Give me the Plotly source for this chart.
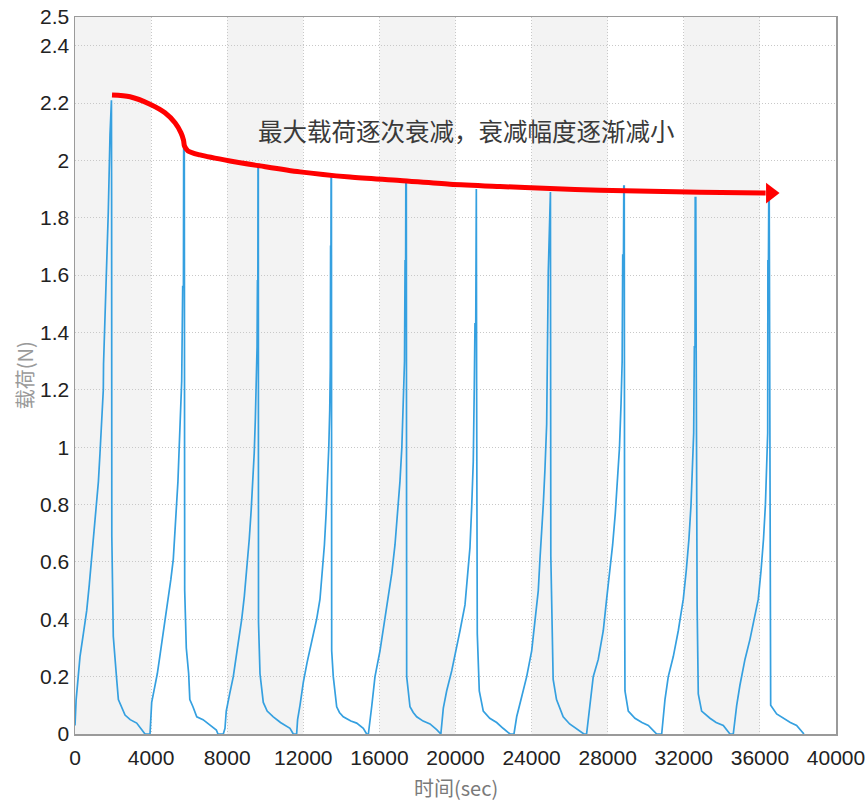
import plotly.graph_objects as go

# ---------------- data ----------------
# load (N) vs time (sec), one list pair per loading cycle
t_c1 = [0, 60, 170, 263, 440, 615, 750, 878, 1010, 1140, 1230, 1314, 1400, 1488, 1500, 1577, 1666, 1750, 1840, 1900, 1915, 1925, 1935, 2013, 2100, 2192, 2280, 2455, 2630, 2900, 3243, 3450, 3590, 3680, 3905]
f_c1 = [0.03, 0.12, 0.20, 0.27, 0.35, 0.43, 0.52, 0.61, 0.70, 0.79, 0.88, 0.98, 1.09, 1.20, 1.29, 1.45, 1.62, 1.82, 2.09, 2.21, 2.21, 1.85, 0.69, 0.34, 0.25, 0.19, 0.12, 0.095, 0.066, 0.05, 0.038, 0.02, 0.01, 0.0, 0.0]

t_c2 = [3942, 4031, 4180, 4326, 4480, 4641, 4780, 4904, 5040, 5167, 5260, 5345, 5410, 5466, 5540, 5608, 5661, 5700, 5712, 5745, 5766, 5850, 5974, 6035, 6200, 6400, 6730, 7100, 7430, 7515, 7795]
f_c2 = [0.0, 0.11, 0.16, 0.21, 0.28, 0.35, 0.41, 0.47, 0.54, 0.61, 0.70, 0.79, 0.88, 0.98, 1.10, 1.23, 1.56, 1.56, 2.05, 2.05, 0.50, 0.30, 0.21, 0.12, 0.095, 0.06, 0.05, 0.03, 0.014, 0.0, 0.0]

t_c3 = [7795, 7884, 7950, 8130, 8320, 8540, 8762, 8900, 9040, 9160, 9260, 9350, 9420, 9480, 9530, 9570, 9590, 9612, 9620, 9635, 9645, 9724, 9897, 10100, 10423, 10800, 11300, 11474, 11650]
f_c3 = [0.0, 0.02, 0.08, 0.14, 0.20, 0.30, 0.40, 0.48, 0.58, 0.68, 0.78, 0.88, 0.98, 1.10, 1.22, 1.35, 1.58, 1.58, 1.98, 1.98, 0.39, 0.21, 0.11, 0.08, 0.06, 0.04, 0.02, 0.0, 0.0]

t_c4 = [11650, 11700, 11826, 12000, 12200, 12450, 12700, 12877, 13000, 13110, 13200, 13280, 13340, 13390, 13420, 13435, 13455, 13462, 13478, 13492, 13576, 13755, 13900, 14102, 14500, 14806, 15153, 15331, 15420]
f_c4 = [0.0, 0.05, 0.10, 0.18, 0.25, 0.32, 0.40, 0.47, 0.56, 0.66, 0.77, 0.88, 1.00, 1.13, 1.28, 1.70, 1.70, 1.95, 1.95, 0.29, 0.20, 0.095, 0.075, 0.06, 0.045, 0.038, 0.02, 0.0, 0.0]

t_c5 = [15420, 15594, 15768, 16031, 16294, 16467, 16650, 16820, 16960, 17080, 17180, 17260, 17320, 17350, 17380, 17390, 17415, 17434, 17608, 17780, 17960, 18300, 18659, 19010, 19185, 19230]
f_c5 = [0.0, 0.095, 0.20, 0.29, 0.40, 0.47, 0.56, 0.66, 0.77, 0.88, 1.00, 1.15, 1.30, 1.65, 1.65, 1.93, 1.93, 0.20, 0.095, 0.075, 0.06, 0.045, 0.035, 0.015, 0.0, 0.0]

t_c6 = [19230, 19360, 19535, 19800, 20000, 20236, 20499, 20670, 20760, 20850, 20934, 20990, 21024, 21065, 21077, 21095, 21110, 21145, 21250, 21460, 21800, 22165, 22500, 22690, 22864, 23074]
f_c6 = [0.0, 0.09, 0.15, 0.22, 0.29, 0.36, 0.45, 0.57, 0.65, 0.79, 0.95, 1.22, 1.43, 1.43, 1.90, 1.90, 1.22, 0.35, 0.15, 0.08, 0.055, 0.04, 0.02, 0.008, 0.0, 0.0]

t_c7 = [23074, 23216, 23479, 23742, 24004, 24178, 24351, 24440, 24530, 24614, 24700, 24760, 24792, 24876, 24966, 24990, 25010, 25133, 25310, 25660, 26000, 26450, 26750, 26890]
f_c7 = [0.0, 0.06, 0.13, 0.20, 0.29, 0.40, 0.50, 0.61, 0.70, 0.80, 0.92, 1.00, 1.08, 1.61, 1.89, 1.89, 0.62, 0.19, 0.12, 0.06, 0.035, 0.014, 0.0, 0.0]

t_c8 = [26890, 27068, 27240, 27504, 27767, 27943, 28100, 28260, 28400, 28520, 28620, 28700, 28760, 28790, 28830, 28845, 28870, 28890, 28908, 29083, 29434, 29800, 30135, 30400, 30574, 30838]
f_c8 = [0.0, 0.095, 0.20, 0.26, 0.36, 0.47, 0.56, 0.66, 0.77, 0.88, 1.00, 1.15, 1.30, 1.67, 1.67, 1.91, 1.91, 0.50, 0.15, 0.08, 0.055, 0.04, 0.03, 0.012, 0.0, 0.0]

t_c9 = [30838, 31010, 31184, 31447, 31710, 31973, 32130, 32270, 32380, 32460, 32520, 32555, 32590, 32600, 32630, 32650, 32700, 32761, 32937, 33376, 33700, 34075, 34300, 34427, 34600]
f_c9 = [0.0, 0.12, 0.20, 0.27, 0.36, 0.47, 0.57, 0.68, 0.80, 0.92, 1.05, 1.35, 1.35, 1.87, 1.87, 1.35, 0.45, 0.14, 0.08, 0.055, 0.04, 0.03, 0.012, 0.0, 0.0]

t_c10 = [34600, 34780, 34950, 35215, 35478, 35740, 35915, 36060, 36190, 36290, 36360, 36410, 36420, 36450, 36465, 36490, 36500, 36540, 36566, 36880, 37228, 37600, 37930, 38150, 38316]
f_c10 = [0.0, 0.10, 0.17, 0.26, 0.33, 0.42, 0.47, 0.57, 0.68, 0.80, 0.92, 1.05, 1.65, 1.65, 1.86, 1.86, 1.65, 0.40, 0.10, 0.07, 0.055, 0.04, 0.03, 0.012, 0.0]

# red trend arrow drawn over the peaks (annotation path)
arrow_t = [1945, 2891, 3942, 4730, 5256, 5571, 5703, 5755, 5939, 6570, 8147, 9724, 11826, 14454, 17082, 19710, 22338, 24966, 27594, 30222, 32850, 36300]
arrow_v = [2.228, 2.222, 2.196, 2.166, 2.131, 2.096, 2.071, 2.050, 2.033, 2.019, 1.998, 1.981, 1.960, 1.942, 1.930, 1.917, 1.909, 1.902, 1.896, 1.892, 1.889, 1.886]
arrow_head_t = [36560]
arrow_head_v = [1.886]

note_text = "最大载荷逐次衰减，衰减幅度逐渐减小"
note_t = 20590
note_v = 2.106

x_ticks = [0, 4000, 8000, 12000, 16000, 20000, 24000, 28000, 32000, 36000, 40000]
x_tick_text = ["0", "4000", "8000", "12000", "16000", "20000", "24000", "28000", "32000", "36000", "40000"]
y_ticks = [0, 0.2, 0.4, 0.6, 0.8, 1.0, 1.2, 1.4, 1.6, 1.8, 2.0, 2.2, 2.4, 2.5]
y_tick_text = ["0", "0.2", "0.4", "0.6", "0.8", "1", "1.2", "1.4", "1.6", "1.8", "2", "2.2", "2.4", "2.5"]
band_starts = [0, 8000, 16000, 24000, 32000]
band_width = 4000

x_title = "时间(sec)"
y_title = "载荷(N)"

# ---------------- figure ----------------
time_sec = t_c1 + t_c2 + t_c3 + t_c4 + t_c5 + t_c6 + t_c7 + t_c8 + t_c9 + t_c10
load_n = f_c1 + f_c2 + f_c3 + f_c4 + f_c5 + f_c6 + f_c7 + f_c8 + f_c9 + f_c10

fig = go.Figure()
fig.add_trace(go.Scatter(x=time_sec, y=load_n, mode="lines",
                         line=dict(color="#35a0e0", width=1.7),
                         showlegend=False, hoverinfo="skip"))
fig.add_trace(go.Scatter(x=arrow_t, y=arrow_v, mode="lines",
                         line=dict(color="#ff0000", width=5, shape="spline", smoothing=0.8),
                         showlegend=False, hoverinfo="skip"))
fig.add_trace(go.Scatter(x=arrow_head_t, y=arrow_head_v, mode="markers",
                         marker=dict(symbol="triangle-right", size=18, color="#ff0000"),
                         showlegend=False, hoverinfo="skip"))

for b in band_starts:
    fig.add_shape(type="rect", xref="x", yref="y", x0=b, x1=b + band_width,
                  y0=0, y1=2.5, fillcolor="#f3f3f3", line=dict(width=0), layer="below")

fig.add_annotation(x=note_t, y=note_v, xref="x", yref="y", text=note_text,
                   showarrow=False,
                   font=dict(family="Noto Sans CJK SC", size=24.5, color="#3a3a3a"))

# axis titles placed as text annotations (paper coords)
fig.add_annotation(x=0.5, y=-0.074, xref="paper", yref="paper", text=x_title,
                   showarrow=False, yanchor="middle",
                   font=dict(family="Noto Sans CJK SC, Liberation Sans", size=20, color="#7a7a7a"))
fig.add_annotation(x=-0.066, y=0.5, xref="paper", yref="paper", text=y_title,
                   showarrow=False, textangle=-90, xanchor="center",
                   font=dict(family="Noto Sans CJK SC, Liberation Sans", size=20, color="#9a9a9a"))

tick_font = dict(family="Liberation Sans, Arial", size=21, color="#222222")

fig.update_xaxes(range=[0, 40000], tickvals=x_ticks, ticktext=x_tick_text,
                 showgrid=True, gridcolor="#c8c8c8", griddash="1px,2px", gridwidth=1,
                 showline=True, linecolor="#9a9a9a", linewidth=1.5, mirror=True,
                 ticks="", tickfont=tick_font, zeroline=False, automargin=False,
                 ticklabelstandoff=4, ticklabeloverflow="allow")
fig.update_yaxes(range=[0, 2.5], tickvals=y_ticks, ticktext=y_tick_text,
                 showgrid=True, gridcolor="#c8c8c8", griddash="1px,2px", gridwidth=1,
                 showline=True, linecolor="#9a9a9a", linewidth=1.5, mirror=True,
                 ticks="", tickfont=tick_font, zeroline=False, automargin=False,
                 ticklabeloverflow="allow")

fig.update_layout(width=867, height=804,
                  margin=dict(l=75, r=31, t=17, b=70),
                  plot_bgcolor="#ffffff", paper_bgcolor="#ffffff")

# remove the default 8px page margin so the figure fills the window exactly
fig.write_html("out.html", config={"displayModeBar": False, "staticPlot": True},
               post_script="document.body.style.margin='0px';document.body.style.overflow='hidden';")
